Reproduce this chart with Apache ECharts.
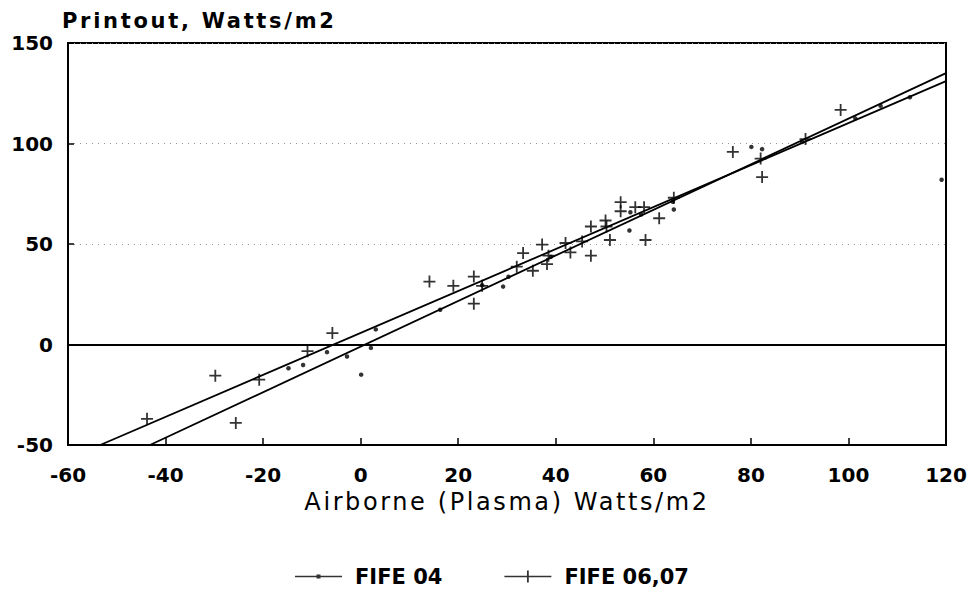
<!DOCTYPE html>
<html><head><meta charset="utf-8">
<script src="https://cdn.jsdelivr.net/npm/echarts@6/dist/echarts.min.js"></script>
<style>html,body{margin:0;padding:0;background:#fff}#chart{width:974px;height:592px}</style>
</head><body><div id="chart"></div>
<script>
// Axis ranges (min, max, interval)
const xRange = [-60, 120, 20];
const yRange = [-50, 150, 50];
const xName = 'Airborne (Plasma) Watts/m2';
const yName = 'Printout, Watts/m2';
const seriesNames = ['FIFE 04', 'FIFE 06,07'];

// FIFE 04 points [airborne, printout]
const fife04 = [[-14.8,-11.8],[-11.8,-10.2],[-6.9,-3.8],[-2.8,-6],[0.1,-15],[2.1,-1.7],[3.1,7.5],
  [16.3,17.3],[24.9,29.5],[29.2,28.8],[30.3,33.7],[39,43.6],[55.1,56.7],[55.3,65.8],[57.5,64.7],
  [64,71],[64.2,67.2],[80.1,98.3],[82.3,97.2],[90.5,100.8],[101.4,112.5],[106.6,118.7],[112.6,123],[119.1,82]];

// FIFE 06,07 points
const fife0607 = [[-43.8,-37],[-29.8,-15.5],[-25.6,-39],[-20.8,-17.5],[-10.9,-3.3],[-5.8,5.7],
  [14.1,31.3],[19,29.2],[23.2,33.8],[23.2,20.3],[24.9,29.2],[32,38.7],[33.3,45.5],[35.3,36.7],
  [37.2,49.7],[38.2,40],[38.5,44.2],[42,50.5],[43,45.8],[45.4,51.3],[47.2,58.7],[47.2,44.2],
  [50.2,61.7],[50.4,58.7],[51.1,52],[53.3,70.8],[53.3,66.3],[56.3,68.3],[58.1,68.3],[58.4,52],
  [61.2,62.8],[64.2,73],[76.3,95.8],[82,92.5],[82.3,83.3],[91.2,102.2],[98.4,116.7]];

// Regression line end points
const fit04 = [[-43.2,-50],[120,135]];
const fit0607 = [[-53.4,-50],[120,131]];
const zeroLine = 0;

const crossPath = 'path://M0,5.1H12V6.9H0Z M5.1,0H6.9V12H5.1Z';
const icon04 = 'path://M0,0M47,14M0,6.3H47V7.7H0Z M21.5,5H25.5V9H21.5Z';
const icon0607 = 'path://M0,0M47,14M0,6.3H47V7.7H0Z M22.6,1H24.4V13H22.6Z';

const FONT = 'DejaVu Sans';
const chart = echarts.init(document.getElementById('chart'), null, {renderer: 'svg'});
chart.setOption({
  animation: false,
  backgroundColor: '#fff',
  grid: {left: 68, right: 28, top: 43, bottom: 147, show: true, borderColor: '#000', borderWidth: 2, backgroundColor: 'transparent'},
  legend: {
    left: 295, top: 566, padding: 0, itemWidth: 47, itemHeight: 14, itemGap: 62, selectedMode: false,
    data: [{name: seriesNames[0], icon: icon04}, {name: seriesNames[1], icon: icon0607}],
    textStyle: {fontFamily: FONT, fontWeight: 'bold', fontSize: 21, color: '#000', padding: [0,0,0,8]}
  },
  xAxis: {
    type: 'value', min: xRange[0], max: xRange[1], interval: xRange[2],
    name: xName, nameLocation: 'middle', nameGap: 43,
    nameTextStyle: {fontFamily: FONT, fontSize: 24, color: '#000'},
    axisLine: {show: true, onZero: false, lineStyle: {color: '#000', width: 2}},
    axisTick: {show: true, inside: true, length: 7, lineStyle: {color: '#000', width: 1.5}},
    axisLabel: {color: '#000', fontFamily: FONT, fontWeight: 'bold', fontSize: 20, margin: 20, showMinLabel: true, showMaxLabel: true},
    splitLine: {show: false}
  },
  yAxis: {
    type: 'value', min: yRange[0], max: yRange[1], interval: yRange[2],
    name: yName, nameLocation: 'end', nameGap: 22,
    nameTextStyle: {fontFamily: FONT, fontWeight: 'bold', fontSize: 21, color: '#000', align: 'left', verticalAlign: 'middle', padding: [0,0,0,-6]},
    axisLine: {show: true, onZero: false, lineStyle: {color: '#000', width: 2}},
    axisTick: {show: true, inside: true, length: 6, lineStyle: {color: '#000', width: 1.5}},
    axisLabel: {color: '#000', fontFamily: FONT, fontWeight: 'bold', fontSize: 20, margin: 15, showMinLabel: true, showMaxLabel: true},
    splitLine: {show: true, lineStyle: {type: [1, 5], color: '#999', width: 1}}
  },
  series: [
    {type: 'line', name: 'fit 04', data: fit04, symbol: 'none', silent: true,
     lineStyle: {color: '#000', width: 1.8},
     markLine: {silent: true, symbol: ['none','none'], label: {show: false},
       lineStyle: {color: '#000', width: 2, type: 'solid'}, data: [{yAxis: zeroLine}]}},
    {type: 'line', name: 'fit 06,07', data: fit0607, symbol: 'none', silent: true,
     lineStyle: {color: '#000', width: 1.8}},
    {type: 'scatter', name: seriesNames[0], data: fife04, symbol: 'circle', symbolSize: 4.5,
     itemStyle: {color: '#000'}},
    {type: 'scatter', name: seriesNames[1], data: fife0607, symbol: crossPath, symbolSize: 12,
     itemStyle: {color: '#000'}}
  ]
});

function spaceNames() {
  document.querySelectorAll('#chart svg text').forEach(t => {
    const s = t.textContent;
    if (s === xName) t.style.letterSpacing = '2.6px';
    if (s === yName) t.style.letterSpacing = '2.7px';
  });
}
spaceNames();
chart.on('finished', spaceNames);
setTimeout(spaceNames, 0);
setTimeout(spaceNames, 200);
</script></body></html>
